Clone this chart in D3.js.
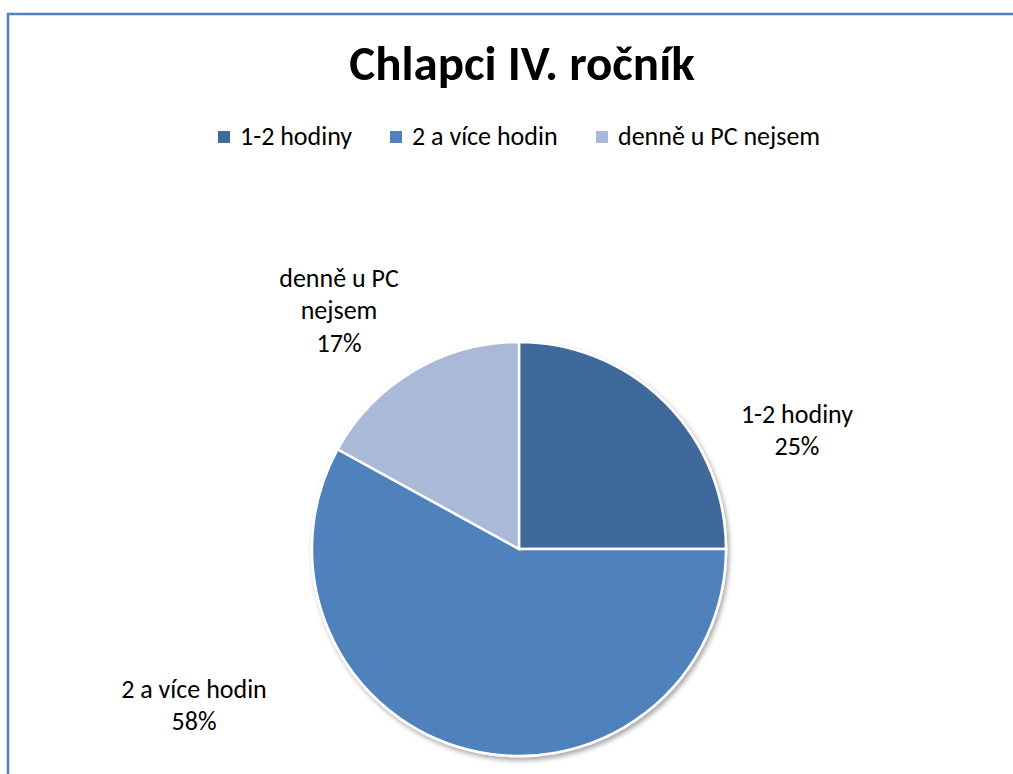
<!DOCTYPE html>
<html><head><meta charset="utf-8">
<script src="https://cdn.jsdelivr.net/npm/d3@7"></script>
<style>
html,body{margin:0;padding:0;background:#fff;}
svg{display:block;}
text{font-family:Carlito,Lato,"Open Sans",sans-serif;fill:#000;}
</style></head>
<body>
<script>
const title = "Chlapci IV. ročník";
const categories = ["1-2 hodiny", "2 a více hodin", "denně u PC nejsem"];
const values = [25, 58, 17];
const colors = ["#41699B", "#4F81BD", "#AAB9D7"];
const labelLines = [["1-2 hodiny", "25%"], ["2 a více hodin", "58%"], ["denně u PC", "nejsem", "17%"]];

const W = 1013, H = 774;
const svg = d3.select("body").append("svg").attr("width", W).attr("height", H);

const defs = svg.append("defs");
const f = defs.append("filter").attr("id", "sh").attr("x", "-10%").attr("y", "-10%").attr("width", "130%").attr("height", "130%");
f.append("feDropShadow").attr("dx", 2).attr("dy", 3).attr("stdDeviation", 2.5).attr("flood-color", "#000").attr("flood-opacity", 0.35);

// border
svg.append("rect").attr("x", 8).attr("y", 14).attr("width", W + 20).attr("height", H + 20)
  .attr("fill", "none").attr("stroke", "#4F81BD").attr("stroke-width", 2.5);

svg.append("text").attr("x", 522).attr("y", 80).attr("text-anchor", "middle")
  .attr("font-size", 49).attr("font-weight", "bold").text(title);

// legend
const legendX = [218, 390, 596];
const lg = svg.append("g");
categories.forEach((c, i) => {
  lg.append("rect").attr("x", legendX[i]).attr("y", 131).attr("width", 12).attr("height", 12).attr("fill", colors[i]);
  lg.append("text").attr("x", legendX[i] + 22).attr("y", 145).attr("font-size", 26).text(c);
});

const cx = 519, cy = 549, r = 207;
const pie = d3.pie().sort(null).value(d => d);
const arcs = pie(values);
const arc = d3.arc().innerRadius(0).outerRadius(r);
const g = svg.append("g").attr("transform", `translate(${cx},${cy})`);
g.append("g").attr("filter", "url(#sh)").selectAll("path").data(arcs).join("path")
  .attr("d", arc).attr("fill", (d, i) => colors[i]).attr("stroke", "#fff").attr("stroke-width", 2.5);

// labels (positions relative to pie center)
const labelPos = [[278, -119], [-325, 156], [-180, -239]];
const lh = 32.5;
labelLines.forEach((lines, i) => {
  const [lx, ly] = labelPos[i];
  const t = g.append("text").attr("text-anchor", "middle").attr("font-size", 26);
  const y0 = ly - (lines.length - 1) * lh / 2;
  lines.forEach((s, j) => {
    t.append("tspan").attr("x", lx).attr("y", y0 + j * lh).attr("dy", "0.35em").text(s);
  });
});
</script>
</body></html>
